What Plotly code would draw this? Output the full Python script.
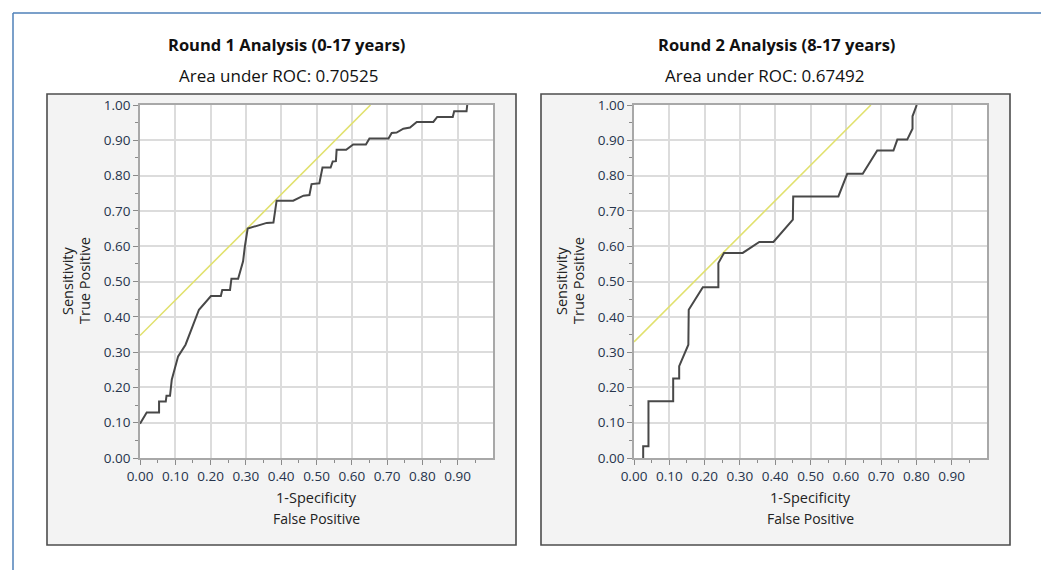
import numpy as np
import plotly.graph_objects as go

# ---------------- data ----------------
roc1_fpr = [0, 0.019, 0.054, 0.054, 0.073, 0.075, 0.085, 0.090, 0.108, 0.129, 0.167, 0.201,
            0.229, 0.233, 0.255, 0.259, 0.278, 0.286, 0.292, 0.297, 0.305, 0.359, 0.378,
            0.387, 0.434, 0.463, 0.480, 0.486, 0.508, 0.517, 0.540, 0.546, 0.555, 0.557,
            0.584, 0.604, 0.640, 0.650, 0.704, 0.713, 0.727, 0.746, 0.765, 0.784, 0.831,
            0.842, 0.886, 0.890, 0.925, 0.927]
roc1_tpr = [0.097, 0.129, 0.129, 0.160, 0.160, 0.176, 0.176, 0.222, 0.288, 0.321, 0.420, 0.459,
            0.459, 0.476, 0.476, 0.508, 0.508, 0.538, 0.557, 0.599, 0.650, 0.666, 0.667,
            0.729, 0.729, 0.743, 0.745, 0.776, 0.778, 0.823, 0.823, 0.840, 0.841, 0.873,
            0.873, 0.888, 0.888, 0.905, 0.905, 0.921, 0.922, 0.933, 0.936, 0.952, 0.952,
            0.966, 0.966, 0.982, 0.982, 1.0]

roc2_fpr = [0.026, 0.026, 0.041, 0.041, 0.111, 0.111, 0.128, 0.128, 0.154, 0.155, 0.195, 0.239,
            0.239, 0.255, 0.308, 0.355, 0.395, 0.450, 0.451, 0.579, 0.604, 0.648, 0.689,
            0.735, 0.746, 0.774, 0.789, 0.789, 0.801]
roc2_tpr = [0.0, 0.033, 0.033, 0.161, 0.161, 0.225, 0.225, 0.260, 0.321, 0.420, 0.484, 0.484,
            0.552, 0.581, 0.581, 0.612, 0.612, 0.675, 0.741, 0.741, 0.805, 0.805, 0.871,
            0.871, 0.902, 0.902, 0.933, 0.968, 1.0]

# tangent (slope 1) reference lines
tan1_x = [0.0, 0.653]
tan1_y = [0.347, 1.0]
tan2_x = [0.0, 0.671]
tan2_y = [0.329, 1.0]

titles = ["Round 1 Analysis (0-17 years)", "Round 2 Analysis (8-17 years)"]
auc_labels = ["Area under ROC: 0.70525", "Area under ROC: 0.67492"]
x_tick_vals = [0.0, 0.1, 0.2, 0.3, 0.4, 0.5, 0.6, 0.7, 0.8, 0.9]
x_tick_text = ["0.00", "0.10", "0.20", "0.30", "0.40", "0.50", "0.60", "0.70", "0.80", "0.90"]
y_tick_vals = [0.0, 0.1, 0.2, 0.3, 0.4, 0.5, 0.6, 0.7, 0.8, 0.9, 1.0]
y_tick_text = ["0.00", "0.10", "0.20", "0.30", "0.40", "0.50", "0.60", "0.70", "0.80", "0.90", "1.00"]

# ---------------- layout helpers ----------------
W, H = 1049, 570
OFF = 8  # page body margin offset
FONT = "Open Sans"
def px(x):
    return (x - OFF) / W
def py(y):
    return 1 - (y - OFF) / H

CURVE = "#484848"
YELLOW = "#e1e16e"
GRID = "#dcdcdc"
TICKFONT = dict(family=FONT, size=13.5, color="#26344c")

fig = go.Figure()
fig.add_trace(go.Scatter(x=tan1_x, y=tan1_y, mode="lines", line=dict(color=YELLOW, width=1.6),
                         xaxis="x", yaxis="y", showlegend=False, hoverinfo="skip"))
fig.add_trace(go.Scatter(x=roc1_fpr, y=roc1_tpr, mode="lines", line=dict(color=CURVE, width=2),
                         xaxis="x", yaxis="y", showlegend=False))
fig.add_trace(go.Scatter(x=tan2_x, y=tan2_y, mode="lines", line=dict(color=YELLOW, width=1.6),
                         xaxis="x2", yaxis="y2", showlegend=False, hoverinfo="skip"))
fig.add_trace(go.Scatter(x=roc2_fpr, y=roc2_tpr, mode="lines", line=dict(color=CURVE, width=2),
                         xaxis="x2", yaxis="y2", showlegend=False))

minor_vals = list(np.round(np.arange(0.05, 1.0, 0.1), 2))

def common_axis():
    return dict(range=[0, 1], tickmode="array", tickfont=TICKFONT, automargin=False,
                showgrid=True, gridcolor=GRID, gridwidth=1.6, zeroline=False,
                showline=True, linecolor="#a8a8a8", linewidth=1.5, mirror=True,
                ticks="outside", ticklen=5, tickcolor="#8a8a8a", tickwidth=1.2,
                minor=dict(tickmode="array", tickvals=minor_vals, ticks="outside",
                           ticklen=3, tickcolor="#8a8a8a", showgrid=False),
                fixedrange=True)

def xaxis(dom, anchor):
    d = common_axis()
    d.update(domain=dom, anchor=anchor, tickvals=x_tick_vals, ticktext=x_tick_text)
    return d

def yaxis(dom, anchor):
    d = common_axis()
    d.update(domain=dom, anchor=anchor, tickvals=y_tick_vals, ticktext=y_tick_text)
    return d

ydom = [py(458), py(105)]
panels = [dict(box=(47, 94, 516, 545), title_x=286, auc_x=278,
               xtitle_x=316, ytitle_x=(68, 85)),
          dict(box=(541, 94, 1010, 545), title_x=776, auc_x=764,
               xtitle_x=810, ytitle_x=(562, 579))]

shapes = []
annotations = []
# outer blue frame
shapes.append(dict(type="line", xref="paper", yref="paper", x0=px(13), x1=1.0, y0=py(13), y1=py(13),
                   line=dict(color="#4f80b8", width=1.5), layer="below"))
shapes.append(dict(type="line", xref="paper", yref="paper", x0=px(13), x1=px(13), y0=py(13), y1=0.0,
                   line=dict(color="#4f80b8", width=1.5), layer="below"))

for i, p in enumerate(panels):
    x0, y0, x1, y1 = p["box"]
    shapes.append(dict(type="rect", xref="paper", yref="paper", x0=px(x0), x1=px(x1), y0=py(y1), y1=py(y0),
                       fillcolor="#f3f3f3", line=dict(color="#4d4d4d", width=1.6), layer="below"))
    xr = "x" if i == 0 else "x2"
    yr = "y" if i == 0 else "y2"
    shapes.append(dict(type="rect", xref=xr + " domain", yref=yr + " domain", x0=0, x1=1, y0=0, y1=1,
                       fillcolor="white", line=dict(width=0), layer="below"))
    annotations.append(dict(text="<b>" + titles[i] + "</b>", xref="paper", yref="paper",
                            x=px(p["title_x"]), y=py(45), xanchor="center", yanchor="middle",
                            showarrow=False, font=dict(family=FONT, size=16.5, color="#111")))
    annotations.append(dict(text=auc_labels[i], xref="paper", yref="paper",
                            x=px(p["auc_x"]), y=py(75), xanchor="center", yanchor="middle",
                            showarrow=False, font=dict(family=FONT, size=17, color="#111")))
    annotations.append(dict(text="1-Specificity", xref="paper", yref="paper",
                            x=px(p["xtitle_x"]), y=py(497), xanchor="center", yanchor="middle",
                            showarrow=False, font=dict(family=FONT, size=14.5, color="#222")))
    annotations.append(dict(text="False Positive", xref="paper", yref="paper",
                            x=px(p["xtitle_x"]), y=py(518), xanchor="center", yanchor="middle",
                            showarrow=False, font=dict(family=FONT, size=14, color="#222")))
    annotations.append(dict(text="Sensitivity", xref="paper", yref="paper", textangle=-90,
                            x=px(p["ytitle_x"][0]), y=py(281), xanchor="center", yanchor="middle",
                            showarrow=False, font=dict(family=FONT, size=14.5, color="#222")))
    annotations.append(dict(text="True Positive", xref="paper", yref="paper", textangle=-90,
                            x=px(p["ytitle_x"][1]), y=py(281), xanchor="center", yanchor="middle",
                            showarrow=False, font=dict(family=FONT, size=14.5, color="#222")))

fig.update_layout(
    width=W, height=H, autosize=False,
    margin=dict(l=0, r=0, t=0, b=0, pad=0, autoexpand=False),
    paper_bgcolor="white", plot_bgcolor="white",
    xaxis=xaxis([px(140), px(493)], "y"),
    yaxis=yaxis(ydom, "x"),
    xaxis2=xaxis([px(634), px(987)], "y2"),
    yaxis2=yaxis(ydom, "x2"),
    shapes=shapes, annotations=annotations,
    showlegend=False,
)

fig.write_html("out.html")
